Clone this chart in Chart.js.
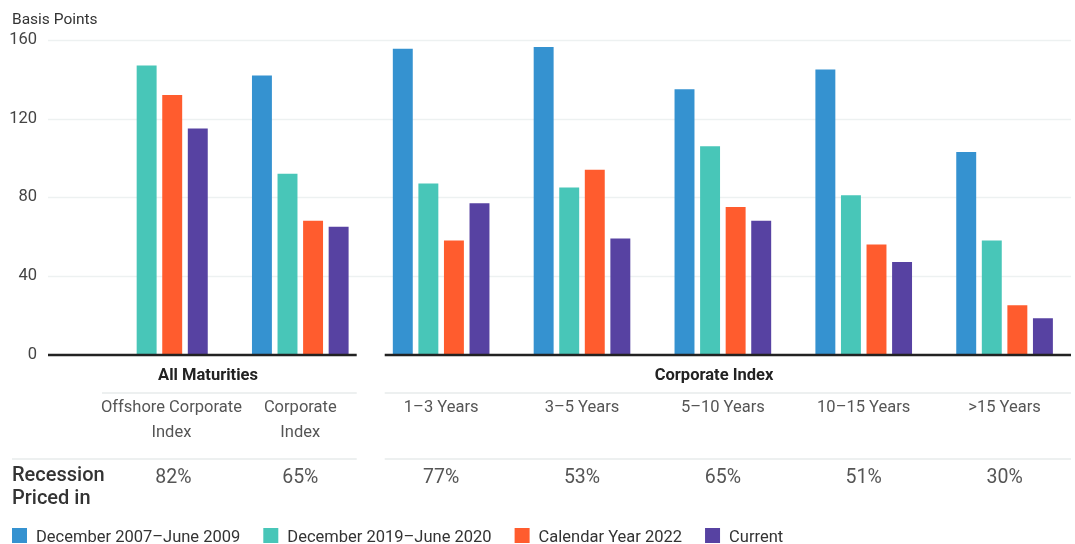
<!DOCTYPE html>
<html>
<head>
<meta charset="utf-8">
<script src="https://cdn.jsdelivr.net/npm/chart.js@4/dist/chart.umd.min.js"></script>
<style>
  html, body { margin: 0; padding: 0; background: #ffffff; }
  #wrap { width: 1075px; height: 544px; position: relative; }
</style>
</head>
<body>
<div id="wrap"><canvas id="c" width="1075" height="544"></canvas></div>
<script>
// ---- Data ----
const categoryLabels = [
  ["Offshore Corporate", "Index"],
  ["Corporate", "Index"],
  ["1–3 Years"],
  ["3–5 Years"],
  ["5–10 Years"],
  ["10–15 Years"],
  [">15 Years"]
];
const groupNames = ["All Maturities", "Corporate Index"];
const groupMembers = [[0, 1], [2, 3, 4, 5, 6]];
const recessionPricedIn = ["82%", "65%", "77%", "53%", "65%", "51%", "30%"];
const seriesNames = ["December 2007–June 2009", "December 2019–June 2020", "Calendar Year 2022", "Current"];
const gfc2008 = [null, 142, 155.5, 156.5, 135, 145, 103];
const covid2020 = [147, 92, 87, 85, 106, 81, 58];
const calendar2022 = [132, 68, 58, 94, 75, 56, 25];
const currentSpread = [115, 65, 77, 59, 68, 47, 18.5];
const yTicks = [0, 40, 80, 120, 160];
const yAxisTitle = "Basis Points";
const rowTitle = ["Recession", "Priced in"];

const colors = ["#3592d0", "#48c6b8", "#ff5c2e", "#5742a2"];
const FONT = "Roboto, 'Noto Sans', sans-serif";

const tablePlugin = {
  id: 'tablePlugin',
  beforeDatasetsDraw(chart) {
    const ctx = chart.ctx, y = chart.scales.y;
    ctx.save();
    ctx.strokeStyle = "#edf1f1";
    ctx.lineWidth = 1.5;
    yTicks.forEach(v => {
      if (v === 0) return;
      const py = Math.round(y.getPixelForValue(v)) + 0.5;
      ctx.beginPath(); ctx.moveTo(48, py); ctx.lineTo(1071, py); ctx.stroke();
    });
    ctx.restore();
  },
  afterDatasetsDraw(chart) {
    const ctx = chart.ctx, x = chart.scales.x, y = chart.scales.y;
    ctx.save();
    // baseline, split between groups
    const by = y.getPixelForValue(0) + 0.5;
    const half = (x.getPixelForValue(1) - x.getPixelForValue(0)) / 2;
    const split = x.getPixelForValue(1) + half;
    ctx.strokeStyle = "#222222";
    ctx.lineWidth = 2.5;
    ctx.beginPath(); ctx.moveTo(48, by); ctx.lineTo(split - 14, by); ctx.stroke();
    ctx.beginPath(); ctx.moveTo(split + 14, by); ctx.lineTo(1071, by); ctx.stroke();

    // axis title
    ctx.fillStyle = "#333333";
    ctx.font = "15.5px " + FONT;
    ctx.textAlign = "left"; ctx.textBaseline = "middle";
    ctx.fillText(yAxisTitle, 12, 20);

    // group headers
    ctx.font = "bold 16.5px " + FONT;
    ctx.fillStyle = "#222222";
    ctx.textAlign = "center";
    ctx.fillText(groupNames[0], 208, 376);
    ctx.fillText(groupNames[1], 714, 376);

    // thin separators
    ctx.strokeStyle = "#edf0f0";
    ctx.lineWidth = 2;
    ctx.beginPath(); ctx.moveTo(102, 393); ctx.lineTo(split - 14, 393); ctx.stroke();
    ctx.beginPath(); ctx.moveTo(split + 14, 393); ctx.lineTo(1071, 393); ctx.stroke();
    ctx.beginPath(); ctx.moveTo(12, 459); ctx.lineTo(split - 14, 459); ctx.stroke();
    ctx.beginPath(); ctx.moveTo(split + 14, 459); ctx.lineTo(1071, 459); ctx.stroke();

    // category labels
    ctx.font = "16.5px " + FONT;
    ctx.fillStyle = "#555555";
    categoryLabels.forEach((lines, i) => {
      let cx = x.getPixelForValue(i);
      if (i === 0) cx += 12;
      lines.forEach((t, j) => ctx.fillText(t, cx, 408 + j * 25));
    });

    // recession row
    ctx.textAlign = "left";
    ctx.fillStyle = "#333333";
    ctx.font = "500 20px " + FONT;
    ctx.fillText(rowTitle[0], 12, 476);
    ctx.fillText(rowTitle[1], 12, 499);
    ctx.textAlign = "center";
    ctx.font = "19.5px " + FONT;
    ctx.fillStyle = "#555555";
    recessionPricedIn.forEach((t, i) => {
      let cx = x.getPixelForValue(i);
      if (i === 0) cx += 14;
      ctx.fillText(t, cx, 478);
    });

    // legend
    ctx.font = "16.5px " + FONT;
    ctx.textAlign = "left";
    let lx = 12;
    seriesNames.forEach((name, i) => {
      ctx.fillStyle = colors[i];
      ctx.fillRect(lx, 528, 15, 15);
      ctx.fillStyle = "#333333";
      ctx.fillText(name, lx + 24, 538);
      lx = lx + 24 + ctx.measureText(name).width + 23;
    });
    ctx.restore();
  }
};

const datasets = [gfc2008, covid2020, calendar2022, currentSpread].map((d, i) => ({
  label: seriesNames[i],
  data: d,
  backgroundColor: colors[i],
  borderWidth: 0,
  categoryPercentage: 0.726,
  barPercentage: 0.78
}));

new Chart(document.getElementById('c'), {
  type: 'bar',
  data: { labels: categoryLabels.map(l => l.join(' ')), datasets },
  options: {
    responsive: false,
    animation: false,
    layout: { padding: { top: 40, bottom: 189.5, left: 0, right: 0 } },
    plugins: { legend: { display: false }, tooltip: { enabled: false } },
    scales: {
      x: { display: false, offset: true },
      y: {
        min: 0, max: 160,
        afterFit(scale) { scale.width = 89; scale.paddingTop = 0; scale.paddingBottom = 0; },
        afterBuildTicks(scale) { scale.ticks = yTicks.map(v => ({ value: v })); },
        ticks: { padding: 52, color: "#444444", font: { family: FONT, size: 16.5 } },
        grid: { display: false, drawTicks: false },
        border: { display: false }
      }
    }
  },
  plugins: [tablePlugin]
});
</script>
</body>
</html>
